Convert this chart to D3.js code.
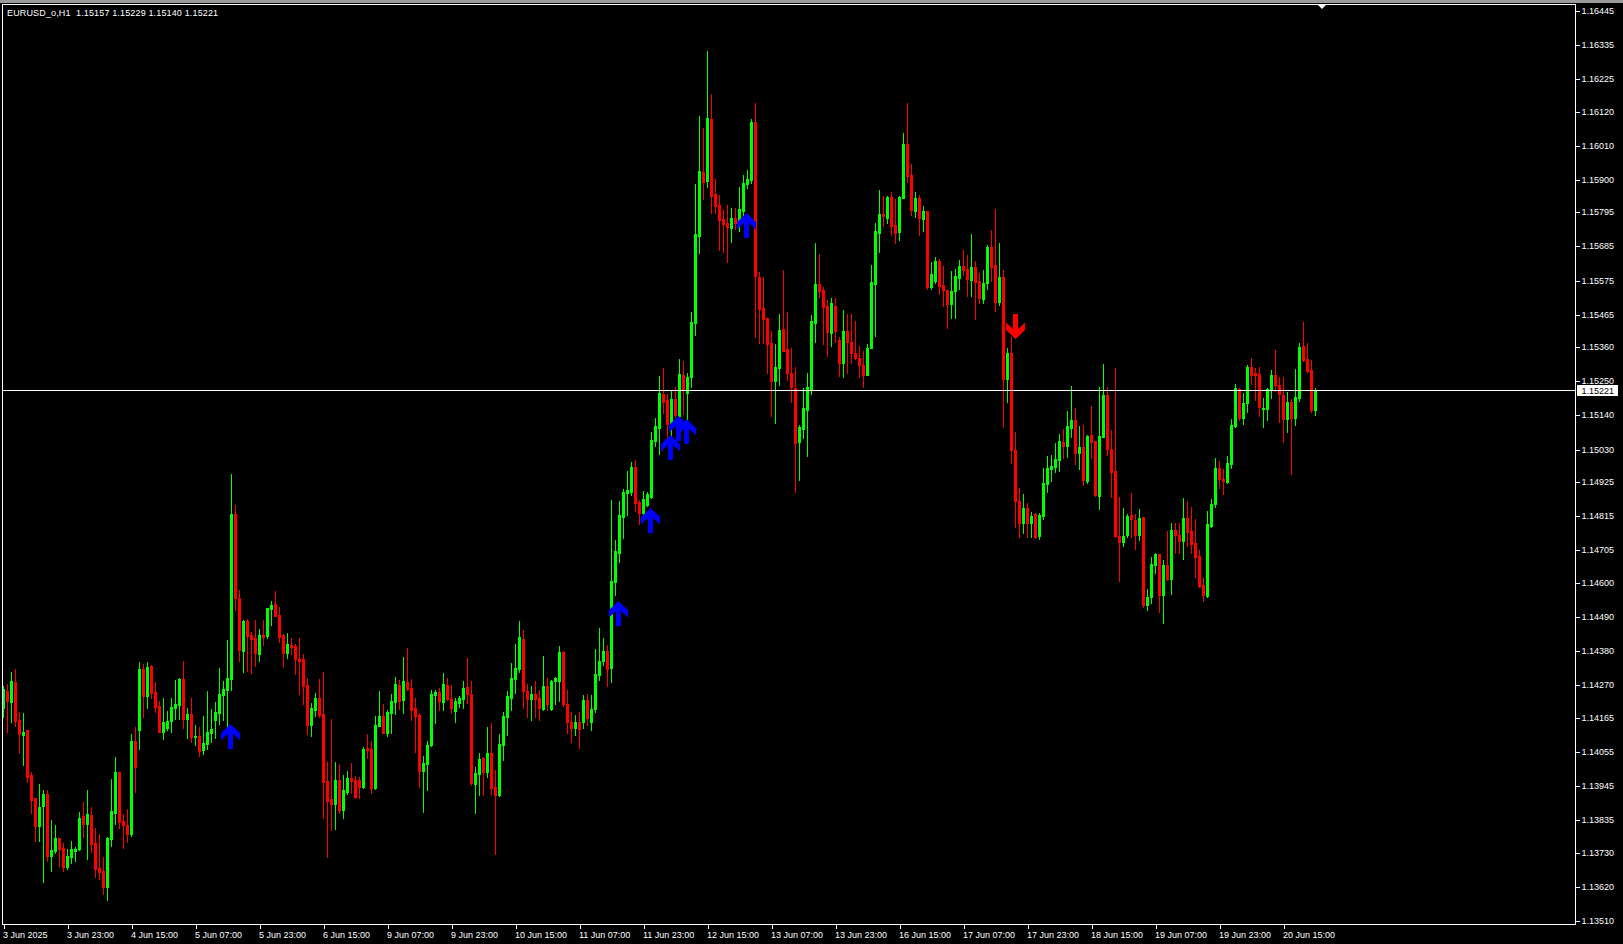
<!DOCTYPE html>
<html><head><meta charset="utf-8">
<script src="https://cdn.jsdelivr.net/npm/d3@7"></script>
<style>
html,body{margin:0;padding:0;background:#000;overflow:hidden}
svg{display:block}
text{font-family:"Liberation Sans",Arial,sans-serif;font-size:9px}
</style></head><body>
<svg id="chart" width="1623" height="944"></svg>
<script>
const symbolTitle = "EURUSD_o,H1";
const lastOHLC = [1.15157, 1.15229, 1.15140, 1.15221];
const currentPrice = 1.15221;

const openP = [
1.14197,1.14252,1.14216,1.14281,1.14158,1.14110,1.14126,1.13981,1.13906,1.13816,
1.13881,1.13919,1.13719,1.13736,1.13777,1.13745,1.13684,1.13716,1.13736,1.13742,
1.13848,1.13823,1.13852,1.13761,1.13681,1.13671,1.13619,1.13774,1.13858,1.13990,
1.13832,1.13819,1.13790,1.14090,1.14126,1.14323,1.14235,1.14332,1.14248,1.14203,
1.14119,1.14132,1.14155,1.14197,1.14206,1.14290,1.14161,1.14177,1.14103,1.14106,
1.14061,1.14081,1.14116,1.14158,1.14181,1.14239,1.14255,1.14290,1.14822,1.14551,
1.14381,1.14477,1.14432,1.14422,1.14371,1.14432,1.14429,1.14516,1.14532,1.14497,
1.14432,1.14374,1.14400,1.14397,1.14355,1.14355,1.14271,1.14142,1.14190,1.14229,
1.14177,1.13961,1.13903,1.13887,1.13965,1.13868,1.13926,1.13971,1.13965,1.13965,
1.13942,1.14068,1.14065,1.13939,1.14139,1.14171,1.14116,1.14181,1.14216,1.14271,
1.14223,1.14281,1.14261,1.14197,1.14174,1.13994,1.14016,1.14077,1.14239,1.14248,
1.14216,1.14271,1.14226,1.14187,1.14213,1.14226,1.14264,1.14242,1.13952,1.13984,
1.14035,1.13990,1.14052,1.13942,1.13916,1.14077,1.14168,1.14229,1.14290,1.14323,
1.14419,1.14252,1.14226,1.14242,1.14229,1.14194,1.14268,1.14194,1.14284,1.14284,
1.14377,1.14210,1.14152,1.14132,1.14152,1.14152,1.14223,1.14152,1.14194,1.14303,
1.14348,1.14381,1.14326,1.14603,1.14697,1.14813,1.14890,1.14893,1.14974,1.14861,
1.14826,1.14851,1.14877,1.15058,1.15100,1.15209,1.15190,1.15113,1.15193,1.15138,
1.15271,1.15213,1.15264,1.15438,1.15719,1.15925,1.15896,1.16096,1.15854,1.15819,
1.15774,1.15761,1.15745,1.15777,1.15761,1.15800,1.15887,1.15900,1.16087,1.15587,
1.15487,1.15454,1.15374,1.15251,1.15293,1.15419,1.15355,1.15277,1.15229,1.15055,
1.15097,1.15158,1.15222,1.15438,1.15564,1.15545,1.15493,1.15406,1.15493,1.15384,
1.15309,1.15413,1.15377,1.15342,1.15325,1.15303,1.15271,1.15358,1.15564,1.15729,
1.15790,1.15777,1.15845,1.15754,1.15732,1.15841,1.16016,1.15916,1.15800,1.15841,
1.15774,1.15800,1.15554,1.15574,1.15638,1.15561,1.15545,1.15500,1.15542,1.15583,
1.15622,1.15613,1.15577,1.15619,1.15574,1.15516,1.15567,1.15683,1.15625,1.15506,
1.15587,1.15258,1.15342,1.15029,1.14864,1.14793,1.14842,1.14793,1.14822,1.14751,
1.14816,1.14919,1.14968,1.14974,1.14997,1.15055,1.15042,1.15100,1.15126,1.15019,
1.15038,1.14929,1.15077,1.15058,1.14880,1.15071,1.15206,1.15032,1.14961,1.14751,
1.14732,1.14755,1.14819,1.14803,1.14755,1.14813,1.14529,1.14555,1.14658,1.14693,
1.14561,1.14658,1.14613,1.14771,1.14755,1.14735,1.14809,1.14768,1.14729,1.14687,
1.14593,1.14558,1.14784,1.14855,1.14971,1.14935,1.14926,1.14984,1.15106,1.15226,
1.15132,1.15180,1.15296,1.15277,1.15274,1.15161,1.15161,1.15222,1.15271,1.15238,
1.15206,1.15129,1.15184,1.15132,1.15196,1.15364,1.15322,1.15287,1.15157];

const highP = [
1.14268,1.14274,1.14313,1.14323,1.14184,1.14181,1.14126,1.13990,1.13906,1.13952,
1.13932,1.13932,1.13836,1.13819,1.13777,1.13761,1.13742,1.13768,1.13748,1.13861,
1.13894,1.13932,1.13877,1.13810,1.13790,1.13716,1.13781,1.13968,1.14039,1.13990,
1.13855,1.13871,1.14113,1.14135,1.14345,1.14339,1.14345,1.14335,1.14281,1.14219,
1.14229,1.14187,1.14229,1.14287,1.14293,1.14348,1.14197,1.14229,1.14142,1.14135,
1.14171,1.14252,1.14194,1.14216,1.14326,1.14284,1.14416,1.14951,1.14851,1.14577,
1.14481,1.14484,1.14442,1.14481,1.14452,1.14481,1.14519,1.14542,1.14574,1.14522,
1.14435,1.14439,1.14422,1.14403,1.14422,1.14371,1.14293,1.14213,1.14245,1.14290,
1.14313,1.14022,1.14161,1.14022,1.14016,1.13981,1.13994,1.14019,1.13977,1.13974,
1.14071,1.14113,1.14090,1.14171,1.14252,1.14210,1.14190,1.14242,1.14297,1.14287,
1.14361,1.14390,1.14290,1.14229,1.14181,1.14042,1.14090,1.14255,1.14255,1.14261,
1.14310,1.14293,1.14271,1.14229,1.14235,1.14284,1.14358,1.14284,1.14006,1.14052,
1.14039,1.14135,1.14148,1.13997,1.14113,1.14184,1.14252,1.14342,1.14403,1.14477,
1.14448,1.14274,1.14268,1.14284,1.14255,1.14364,1.14293,1.14287,1.14297,1.14397,
1.14381,1.14255,1.14184,1.14174,1.14184,1.14239,1.14242,1.14239,1.14387,1.14455,
1.14422,1.14400,1.14868,1.14739,1.14864,1.14903,1.14961,1.14990,1.14997,1.14868,
1.14897,1.14893,1.15087,1.15132,1.15267,1.15293,1.15209,1.15222,1.15232,1.15322,
1.15316,1.15277,1.15474,1.15887,1.16106,1.16067,1.16316,1.16177,1.15903,1.15851,
1.15803,1.15819,1.15809,1.15809,1.15877,1.15916,1.15932,1.16096,1.16148,1.15603,
1.15587,1.15454,1.15413,1.15371,1.15467,1.15609,1.15474,1.15358,1.15296,1.15109,
1.15229,1.15277,1.15464,1.15696,1.15661,1.15554,1.15513,1.15519,1.15519,1.15394,
1.15480,1.15467,1.15467,1.15445,1.15364,1.15348,1.15371,1.15625,1.15761,1.15867,
1.15848,1.15848,1.15861,1.15838,1.15848,1.16051,1.16148,1.15951,1.15861,1.15851,
1.15816,1.15800,1.15635,1.15651,1.15645,1.15622,1.15545,1.15606,1.15613,1.15642,
1.15674,1.15658,1.15725,1.15638,1.15600,1.15609,1.15690,1.15738,1.15806,1.15696,
1.15609,1.15358,1.15393,1.15087,1.14906,1.14887,1.14858,1.14829,1.14826,1.14826,
1.14971,1.15009,1.15013,1.15051,1.15080,1.15097,1.15155,1.15235,1.15164,1.15106,
1.15109,1.15077,1.15171,1.15058,1.15232,1.15306,1.15232,1.15093,1.15293,1.14877,
1.14842,1.14822,1.14890,1.14822,1.14839,1.14813,1.14581,1.14684,1.14697,1.14693,
1.14674,1.14768,1.14793,1.14793,1.14793,1.14874,1.14864,1.14845,1.14806,1.14706,
1.14616,1.14832,1.14871,1.15003,1.14993,1.14968,1.15009,1.15129,1.15242,1.15229,
1.15213,1.15303,1.15325,1.15293,1.15296,1.15196,1.15229,1.15287,1.15351,1.15264,
1.15264,1.15216,1.15193,1.15290,1.15374,1.15442,1.15374,1.15319,1.15229];

const lowP = [
1.14168,1.14119,1.14152,1.14139,1.14052,1.14013,1.13958,1.13858,1.13768,1.13768,
1.13636,1.13703,1.13671,1.13729,1.13687,1.13671,1.13678,1.13697,1.13703,1.13739,
1.13781,1.13710,1.13732,1.13652,1.13645,1.13597,1.13578,1.13752,1.13823,1.13810,
1.13745,1.13765,1.13784,1.13926,1.14065,1.14168,1.14197,1.14229,1.14184,1.14119,
1.14097,1.14126,1.14119,1.14161,1.14161,1.14132,1.14100,1.14087,1.14077,1.14042,
1.14048,1.14065,1.14087,1.14100,1.14145,1.14158,1.14126,1.14255,1.14513,1.14348,
1.14313,1.14316,1.14310,1.14332,1.14348,1.14400,1.14422,1.14464,1.14493,1.14410,
1.14329,1.14358,1.14371,1.14306,1.14242,1.14210,1.14113,1.14106,1.14171,1.14168,
1.13842,1.13716,1.13803,1.13807,1.13858,1.13842,1.13919,1.13923,1.13906,1.13906,
1.13939,1.14035,1.13923,1.13936,1.14139,1.14116,1.14106,1.14116,1.14177,1.14194,
1.14181,1.14255,1.14158,1.14055,1.13942,1.13861,1.13932,1.14074,1.14148,1.14190,
1.14190,1.14223,1.14181,1.14152,1.14200,1.14197,1.14213,1.13948,1.13858,1.13916,
1.13916,1.13974,1.13919,1.13726,1.13913,1.14029,1.14110,1.14190,1.14245,1.14313,
1.14197,1.14168,1.14158,1.14168,1.14158,1.14190,1.14190,1.14190,1.14210,1.14219,
1.14203,1.14116,1.14087,1.14110,1.14068,1.14132,1.14142,1.14126,1.14184,1.14287,
1.14335,1.14268,1.14281,1.14561,1.14668,1.14745,1.14819,1.14884,1.14832,1.14790,
1.14819,1.14848,1.14874,1.15042,1.15016,1.15148,1.15064,1.15071,1.15135,1.15135,
1.15145,1.15126,1.15232,1.15400,1.15664,1.15838,1.15877,1.15793,1.15793,1.15674,
1.15667,1.15635,1.15700,1.15742,1.15735,1.15771,1.15874,1.15890,1.15393,1.15374,
1.15374,1.15277,1.15138,1.15116,1.15238,1.15348,1.15255,1.15184,1.14893,1.14932,
1.15067,1.15009,1.15209,1.15377,1.15522,1.15371,1.15332,1.15364,1.15377,1.15267,
1.15264,1.15277,1.15309,1.15322,1.15264,1.15232,1.15271,1.15358,1.15396,1.15667,
1.15751,1.15761,1.15722,1.15696,1.15706,1.15841,1.15893,1.15787,1.15780,1.15722,
1.15735,1.15548,1.15548,1.15567,1.15532,1.15493,1.15422,1.15454,1.15454,1.15548,
1.15593,1.15525,1.15525,1.15451,1.15503,1.15503,1.15548,1.15574,1.15477,1.15496,
1.15103,1.15184,1.14987,1.14780,1.14748,1.14761,1.14748,1.14748,1.14745,1.14742,
1.14806,1.14893,1.14929,1.14958,1.14961,1.15003,1.15006,1.15071,1.14984,1.14968,
1.14916,1.14922,1.15003,1.14880,1.14839,1.15071,1.15013,1.14877,1.14748,1.14606,
1.14719,1.14748,1.14748,1.14710,1.14739,1.14522,1.14513,1.14535,1.14632,1.14506,
1.14471,1.14610,1.14564,1.14697,1.14697,1.14677,1.14719,1.14697,1.14619,1.14587,
1.14542,1.14555,1.14780,1.14845,1.14906,1.14887,1.14922,1.14971,1.15103,1.15126,
1.15113,1.15151,1.15242,1.15190,1.15138,1.15103,1.15126,1.15196,1.15219,1.15119,
1.15055,1.15087,1.14951,1.15109,1.15187,1.15316,1.15280,1.15151,1.15140];

const closeP = [
1.14258,1.14219,1.14284,1.14155,1.14113,1.14119,1.13974,1.13900,1.13816,1.13877,
1.13919,1.13719,1.13739,1.13777,1.13742,1.13684,1.13719,1.13742,1.13742,1.13842,
1.13823,1.13855,1.13758,1.13678,1.13668,1.13619,1.13777,1.13865,1.13990,1.13829,
1.13819,1.13790,1.14090,1.14006,1.14323,1.14235,1.14329,1.14245,1.14200,1.14119,
1.14152,1.14155,1.14200,1.14210,1.14290,1.14161,1.14177,1.14103,1.14106,1.14058,
1.14084,1.14119,1.14129,1.14184,1.14242,1.14258,1.14293,1.14822,1.14551,1.14384,
1.14477,1.14429,1.14419,1.14374,1.14432,1.14426,1.14519,1.14529,1.14493,1.14426,
1.14374,1.14403,1.14393,1.14355,1.14348,1.14268,1.14142,1.14197,1.14229,1.14174,
1.13958,1.13897,1.13887,1.13965,1.13868,1.13932,1.13971,1.13961,1.13910,1.13942,
1.14065,1.14061,1.13939,1.14142,1.14171,1.14116,1.14184,1.14219,1.14274,1.14219,
1.14284,1.14258,1.14190,1.14171,1.13994,1.14019,1.14077,1.14242,1.14248,1.14219,
1.14274,1.14226,1.14197,1.14219,1.14229,1.14261,1.14242,1.13955,1.13987,1.14032,
1.13990,1.14052,1.13939,1.13916,1.14081,1.14171,1.14235,1.14293,1.14326,1.14426,
1.14252,1.14226,1.14242,1.14226,1.14197,1.14268,1.14210,1.14284,1.14293,1.14377,
1.14210,1.14152,1.14132,1.14152,1.14129,1.14223,1.14164,1.14194,1.14306,1.14348,
1.14381,1.14323,1.14606,1.14703,1.14819,1.14893,1.14900,1.14974,1.14858,1.14826,
1.14871,1.14887,1.15061,1.15106,1.15213,1.15184,1.15113,1.15193,1.15142,1.15274,
1.15222,1.15264,1.15442,1.15725,1.15929,1.15893,1.16099,1.15848,1.15816,1.15771,
1.15758,1.15748,1.15777,1.15761,1.15806,1.15890,1.15903,1.16087,1.15590,1.15484,
1.15451,1.15371,1.15251,1.15296,1.15416,1.15348,1.15277,1.15232,1.15051,1.15103,
1.15164,1.15232,1.15445,1.15564,1.15542,1.15490,1.15409,1.15503,1.15413,1.15309,
1.15413,1.15377,1.15342,1.15325,1.15303,1.15271,1.15358,1.15571,1.15735,1.15790,
1.15783,1.15845,1.15751,1.15729,1.15845,1.16016,1.15912,1.15803,1.15841,1.15777,
1.15800,1.15554,1.15596,1.15638,1.15558,1.15545,1.15500,1.15542,1.15590,1.15622,
1.15609,1.15580,1.15619,1.15571,1.15519,1.15567,1.15683,1.15619,1.15506,1.15587,
1.15258,1.15342,1.15029,1.14864,1.14793,1.14842,1.14793,1.14816,1.14748,1.14819,
1.14922,1.14971,1.14977,1.15000,1.15058,1.15042,1.15106,1.15126,1.15019,1.15038,
1.14932,1.15074,1.15055,1.14884,1.15074,1.15206,1.15032,1.14958,1.14751,1.14732,
1.14751,1.14816,1.14806,1.14755,1.14809,1.14529,1.14555,1.14661,1.14693,1.14561,
1.14658,1.14613,1.14771,1.14755,1.14735,1.14809,1.14764,1.14726,1.14684,1.14590,
1.14561,1.14790,1.14855,1.14971,1.14935,1.14929,1.14987,1.15109,1.15229,1.15132,
1.15180,1.15296,1.15271,1.15271,1.15167,1.15164,1.15226,1.15271,1.15238,1.15209,
1.15129,1.15184,1.15132,1.15200,1.15361,1.15319,1.15284,1.15158,1.15221];

const priceTicks = [1.16445,1.16335,1.16225,1.16120,1.16010,1.15900,1.15795,1.15685,1.15575,1.15465,
1.15360,1.15250,1.15140,1.15030,1.14925,1.14815,1.14705,1.14600,1.14490,1.14380,1.14270,1.14165,
1.14055,1.13945,1.13835,1.13730,1.13620,1.13510];

const timeTickBars = [0,16,32,48,64,80,96,112,128,144,160,176,192,208,224,240,256,272,288,304,320];
const timeTickLabels = ["3 Jun 2025","3 Jun 23:00","4 Jun 15:00","5 Jun 07:00","5 Jun 23:00","6 Jun 15:00",
"9 Jun 07:00","9 Jun 23:00","10 Jun 15:00","11 Jun 07:00","11 Jun 23:00","12 Jun 15:00","13 Jun 07:00",
"13 Jun 23:00","16 Jun 15:00","17 Jun 07:00","17 Jun 23:00","18 Jun 15:00","19 Jun 07:00","19 Jun 23:00","20 Jun 15:00"];

const upArrowBars = [57,154,162,167,169,171,186];
const upArrowPrices = [1.14145,1.14542,1.14842,1.15077,1.15138,1.15129,1.15793];
const downArrowBars = [253];
const downArrowPrices = [1.15387];

const W = 1623, H = 944;
const svg = d3.select("#chart");
svg.append("rect").attr("width", W).attr("height", H).attr("fill", "#000");
svg.append("rect").attr("x", 0).attr("y", 0).attr("width", W).attr("height", 3).attr("fill", "#9a9a9a");

const x = d3.scaleLinear().domain([0, 328]).range([3.5, 1315.5]);
const y = d3.scaleLinear().domain([1.13510, 1.16445]).range([921, 11]);
const row = p => Math.round(y(p) - 0.2);

svg.append("defs").append("clipPath").attr("id", "plot")
  .append("rect").attr("x", 3).attr("y", 5).attr("width", 1572).attr("height", 919);

const bars = d3.range(openP.length).map(i => ({i, o: openP[i], h: highP[i], l: lowP[i], c: closeP[i]}));
const colorOf = d => d.c >= d.o ? "#00ff00" : "#ff0000";

const plot = svg.append("g").attr("clip-path", "url(#plot)").attr("shape-rendering", "crispEdges");
plot.selectAll("rect.wick").data(bars).join("rect").attr("class", "wick")
  .attr("x", d => x(d.i) - 0.5).attr("width", 1)
  .attr("y", d => row(d.h)).attr("height", d => row(d.l) - row(d.h) + 1)
  .attr("fill", colorOf);
plot.selectAll("rect.body").data(bars).join("rect").attr("class", "body")
  .attr("x", d => x(d.i) - 1.5).attr("width", 3)
  .attr("y", d => row(Math.max(d.o, d.c)))
  .attr("height", d => Math.max(1, row(Math.min(d.o, d.c)) - row(Math.max(d.o, d.c)) + 1))
  .attr("fill", colorOf);

// current price line
const cpRow = row(currentPrice);
svg.append("line").attr("x1", 3).attr("x2", 1575).attr("y1", cpRow + 0.5).attr("y2", cpRow + 0.5)
  .attr("stroke", "#fff").attr("stroke-width", 1);

// arrows
const upPath = "M0,0 L9.5,9 L9.5,16.5 L2.5,10 L2.5,25 L-2.5,25 L-2.5,10 L-9.5,16.5 L-9.5,9 Z";
const up = upArrowBars.map((b, k) => ({b, p: upArrowPrices[k]}));
svg.selectAll("path.up").data(up).join("path").attr("class", "up")
  .attr("d", upPath).attr("fill", "#0000ff")
  .attr("transform", d => `translate(${x(d.b) - 1},${row(d.p)})`);
const dn = downArrowBars.map((b, k) => ({b, p: downArrowPrices[k]}));
svg.selectAll("path.dn").data(dn).join("path").attr("class", "dn")
  .attr("d", upPath).attr("fill", "#ff0000")
  .attr("transform", d => `translate(${x(d.b)},${row(d.p)}) scale(1,-1)`);

// frame
svg.append("rect").attr("x", 2.5).attr("y", 4.5).attr("width", 1573).attr("height", 920)
  .attr("fill", "none").attr("stroke", "#fff").attr("stroke-width", 1).attr("shape-rendering", "crispEdges");
svg.append("path").attr("d", "M1318,5 L1326,5 L1322,9 Z").attr("fill", "#fff");

// price axis
const yAxis = d3.axisRight(y).tickValues(priceTicks).tickFormat(d3.format(".5f")).tickSize(4).tickPadding(2);
const ya = svg.append("g").attr("transform", "translate(1575.5,0)").call(yAxis);
ya.select(".domain").remove();
ya.attr("font-family", null).attr("font-size", null).attr("color", "#fff");
ya.selectAll(".tick").attr("transform", d => `translate(0,${row(d) + 0.5})`);
ya.selectAll(".tick line").attr("stroke", "#fff").attr("shape-rendering", "crispEdges");
ya.selectAll(".tick text").attr("fill", "#fff");

// time axis
const xAxis = d3.axisBottom(x).tickValues(timeTickBars).tickFormat((d, i) => timeTickLabels[i]).tickSize(4).tickPadding(3);
const xa = svg.append("g").attr("transform", "translate(0,924.5)").call(xAxis);
xa.select(".domain").remove();
xa.attr("font-family", null).attr("font-size", null).attr("color", "#fff");
xa.selectAll(".tick line").attr("stroke", "#fff").attr("shape-rendering", "crispEdges");
xa.selectAll(".tick text").attr("fill", "#fff").attr("text-anchor", "start").attr("x", -1);

// current price label
svg.append("rect").attr("x", 1577).attr("y", cpRow - 5).attr("width", 41).attr("height", 11).attr("fill", "#fff");
svg.append("text").attr("x", 1581.5).attr("y", cpRow + 3.5).attr("fill", "#000").text(currentPrice.toFixed(5));

// header
svg.append("text").attr("x", 7).attr("y", 16).attr("fill", "#fff").style("white-space", "pre")
  .attr("letter-spacing", "0.15px")
  .text(`${symbolTitle}  ${lastOHLC.map(v => v.toFixed(5)).join(" ")}`);
</script>
</body></html>
